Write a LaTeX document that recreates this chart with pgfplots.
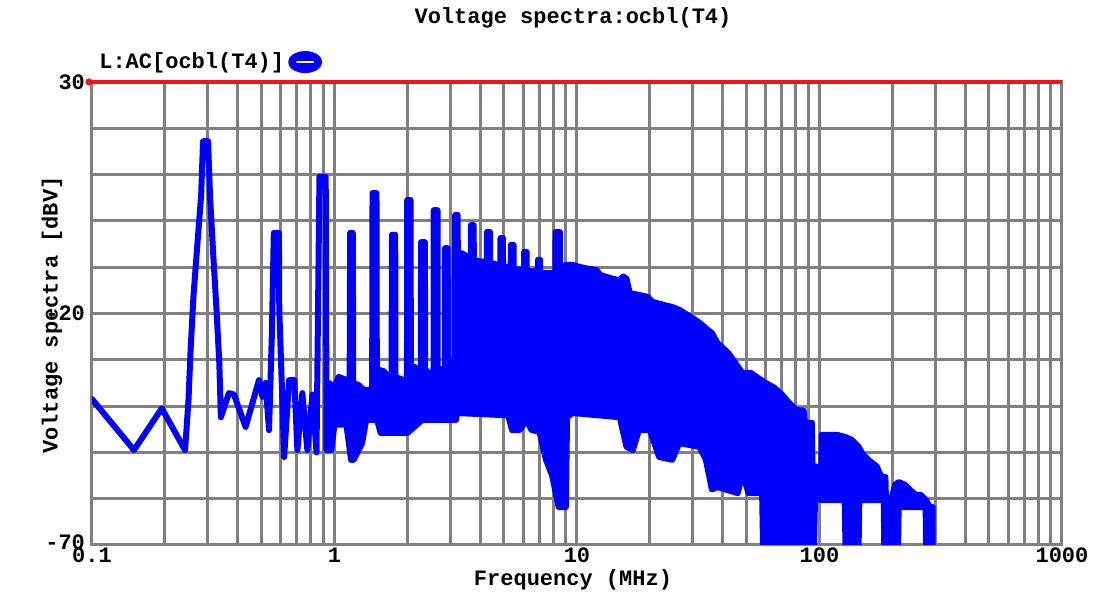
\documentclass[border=0pt]{standalone}
\usepackage{fontspec}
\setmainfont{Liberation Mono}
\usepackage{pgfplots}
\pgfplotsset{compat=1.18}
\definecolor{gridgray}{RGB}{128,128,128}
\definecolor{spec}{RGB}{0,0,255}
\definecolor{cursor}{RGB}{240,20,20}

\begin{document}
\begin{tikzpicture}[font=\fontsize{11pt}{13pt}\selectfont\bfseries]
\path[use as bounding box] (-46pt,-35pt) rectangle (504pt,272.5pt);
\begin{axis}[
    name=ax, at={(0,0)}, anchor=south west,
    scale only axis, width=485pt, height=231.5pt,
    xmode=log, xmin=0.1, xmax=1000, ymin=-70, ymax=30,
    xtick={0.1,1,10,100,1000}, xticklabels={0.1,1,10,100,1000},
    minor xtick={0.2,0.3,0.4,0.5,0.6,0.7,0.8,0.9,2,3,4,5,6,7,8,9,20,30,40,50,60,70,80,90,200,300,400,500,600,700,800,900},
    ytick={-70,-20,30}, yticklabels={\raisebox{3pt}{-70},-20,30},
    minor ytick={-60,-50,-40,-30,-10,0,10,20},
    grid=both,
    major grid style={gridgray, line width=1.5pt},
    minor grid style={gridgray, line width=1.5pt},
    axis line style={gridgray, line width=1.5pt},
    major tick length=0pt, minor tick length=0pt,
    tick label style={font=\fontsize{11pt}{13pt}\selectfont\bfseries, black},
    x tick label style={yshift=2pt},
    /pgf/number format/assume math mode=true,
    legend style={at={(0.003,1.043)}, anchor=west, draw=none, fill=none,
        inner sep=0pt, font=\fontsize{11pt}{13pt}\selectfont\bfseries},
    legend plot pos=right,
    legend image code/.code={
        \fill[spec] (2pt,0pt) ellipse (7pt and 4pt);
        \draw[white, line width=1pt] (-2pt,0pt) -- (6pt,0pt);
    },
]

% low frequency part: fundamental and first harmonics
\addplot[spec, line width=3pt, line join=round, line cap=round] coordinates {
    (0.1,-38.5) (0.149,-49.5) (0.194,-40.5) (0.242,-49.5) (0.25,-38.7)
    (0.255,-28) (0.262,-16.4) (0.272,-5) (0.282,5.6) (0.287,17.2)
    (0.301,17.2) (0.307,5) (0.316,-7) (0.326,-19) (0.335,-30.7)
    (0.34,-42.4) (0.367,-37.2) (0.385,-37.5) (0.43,-44.5) (0.488,-34.4)
    (0.505,-38) (0.52,-35) (0.537,-45.2) (0.552,-24.2) (0.562,-2.6)
    (0.59,-2.6) (0.592,-19.2) (0.607,-36) (0.62,-51) (0.65,-34.4)
    (0.683,-34.4) (0.703,-49.5) (0.737,-37.2) (0.773,-49.5) (0.811,-37.5)
    (0.843,-50) (0.867,9.5) (0.92,9.5) (0.926,-36.5)
};
\addlegendentry{L:AC[ocbl(T4)]}

% dense part of the spectrum: upper edge, then lower edge back
\addplot[spec, fill=spec, line width=3pt, line join=round, forget plot] coordinates {
    (0.926,-36.5) (0.95,-35) (1.0,-36) (1.04,-33.7) (1.10,-34.2) (1.15,-34.5)
    (1.155,-34.5) (1.16,-2.6) (1.19,-2.6) (1.195,-35)
    (1.26,-35.5) (1.32,-36.5) (1.40,-36.5)
    (1.43,-36) (1.435,6) (1.49,6) (1.495,-36)
    (1.53,-32.2) (1.60,-32.5) (1.68,-34)
    (1.72,-34) (1.725,-3) (1.78,-3) (1.785,-34)
    (1.85,-34) (1.93,-34.5)
    (1.99,-34) (1.995,4.5) (2.06,4.5) (2.065,-33)
    (2.13,-31.5) (2.2,-32)
    (2.27,-32) (2.275,-4.6) (2.36,-4.6) (2.365,-32)
    (2.45,-33) (2.52,-33)
    (2.56,-33) (2.565,2.3) (2.66,2.3) (2.665,-32)
    (2.75,-32) (2.82,-32)
    (2.85,-32) (2.855,-5.9) (2.93,-5.9) (2.935,-30)
    (3.0,-31) (3.1,-30)
    (3.14,-30) (3.145,1.3) (3.22,1.3) (3.225,-7)
    (3.35,-7) (3.6,-8)
    (3.65,-8) (3.655,-0.9) (3.75,-0.9) (3.755,-8.5)
    (4.0,-8.8) (4.2,-8.8)
    (4.25,-8.8) (4.255,-2.4) (4.38,-2.4) (4.385,-9)
    (4.7,-9.5)
    (4.83,-9.5) (4.835,-3.7) (4.95,-3.7) (4.955,-10)
    (5.25,-10)
    (5.33,-10) (5.335,-5.2) (5.48,-5.2) (5.485,-10.5)
    (6.05,-10.5) (6.055,-6.7) (6.2,-6.7) (6.205,-10.8)
    (6.9,-11) (6.905,-8.4) (7.05,-8.4) (7.055,-11.3)
    (8.15,-11.3) (8.155,-2.4) (8.5,-2.4) (8.505,-10)
    (9.0,-9.5) (9.6,-9.5) (10,-9.8) (11,-10.3) (12,-10.6) (12.5,-11.7)
    (14,-12.5) (15,-12.8) (15.5,-12) (16,-12.5) (16.5,-15.6) (18,-16)
    (19.5,-16.4) (20.5,-17.5) (23,-18.2) (24.7,-18.6) (26.4,-19.2)
    (28.5,-20.3) (30,-21) (32,-22) (34,-23.2) (36,-24.2) (38,-26.4)
    (40,-27.5) (42,-28.5) (45,-30.7) (48,-32.8) (52,-32.8) (55,-33.7)
    (60,-35) (65,-36) (70,-37.5) (75,-39.3) (80,-40.8) (86,-41)
    (87,-43.6) (93,-43.6) (93.5,-53) (96.5,-53) (97,-56) (101.8,-56)
    (102,-46.2) (118,-46.2) (128,-46.7) (136,-47.3) (145,-48.8)
    (150,-50.2) (159,-51.6) (165,-52.3) (172,-53) (180,-55.3) (187,-55.3)
    (188,-60) (197,-60) (200,-59.2) (205,-57) (212,-56.4) (225,-57)
    (235,-58) (250,-59.2) (262,-59.2) (275,-60.3) (285,-61.8) (293,-61.8)
    (293,-70) (275,-70) (274,-61.8) (212,-61.8) (211,-70) (185,-70)
    (184,-60.3) (146,-60.3) (145,-70) (128,-70) (127,-60.3) (101,-60.3)
    (100,-58) (96,-58) (95,-70) (84.5,-70) (84,-64) (80.5,-64) (80,-70)
    (71.4,-70) (71,-64) (69.8,-64) (69.4,-70) (58.5,-70) (58,-58.8)
    (51,-58.8) (48,-54.5) (46,-58.8) (38,-57.5) (36,-58) (34,-51.6)
    (32,-48.8) (26.4,-48) (24.7,-51.6) (21.8,-51) (20,-45.2) (18,-45.2)
    (17,-49.5) (16,-48.8) (15,-42.4) (9.6,-41.5) (9.1,-42.4) (9.0,-61.8)
    (8.4,-61.8) (7.9,-55) (7.45,-51.6) (7,-45.5) (6.5,-45.2) (6.2,-43)
    (5.8,-45.2) (5.4,-45.2) (5.2,-42) (3.2,-41.5) (3.17,-43) (2.7,-43)
    (2.3,-43) (2.0,-45.8) (1.55,-45.8) (1.5,-43) (1.35,-43) (1.3,-48)
    (1.2,-51.6) (1.17,-51.6) (1.12,-44) (1.0,-44) (0.97,-49.5)
    (0.926,-49.5) (0.926,-36.5)
};
\end{axis}

% cursor line along the top of the plot
\draw[cursor, line width=1.8pt] (ax.north west) -- (ax.north east);
\fill[cursor] ([xshift=-1.5pt]ax.north west) circle (1.8pt);

\node at (240.5pt,263.5pt) {Voltage spectra:ocbl(T4)};
\node[rotate=90] at (-20pt,115pt) {Voltage spectra [dBV]};
\node at (240.5pt,-17.5pt) {Frequency (MHz)};
\end{tikzpicture}
\end{document}
